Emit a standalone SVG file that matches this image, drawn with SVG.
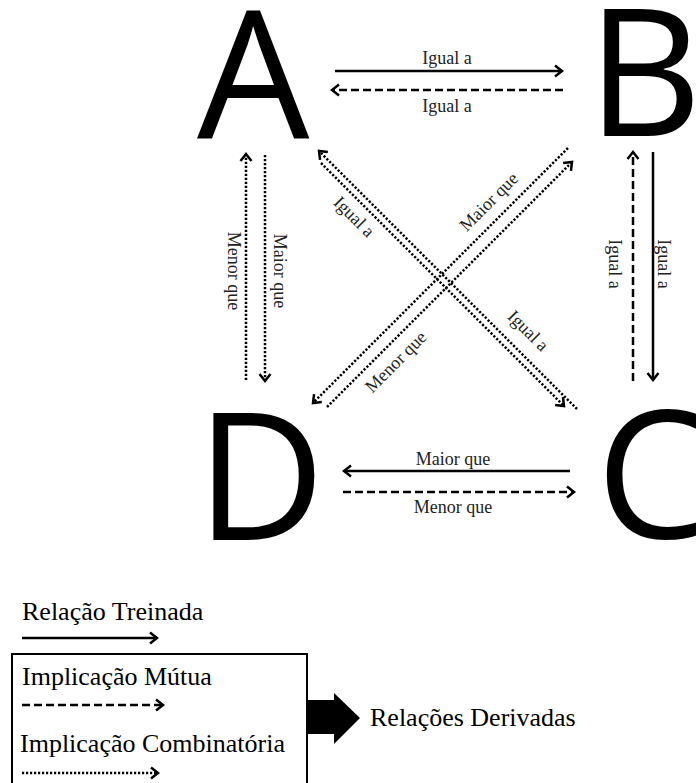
<svg xmlns="http://www.w3.org/2000/svg" width="696" height="783" viewBox="0 0 696 783">
<style>
.big{font-family:"Open Sans","DejaVu Sans",sans-serif;font-size:178px;fill:#000}
.lbl{font-family:"Liberation Serif","Times New Roman",serif;font-size:18px;fill:#222}
.leg{font-family:"Liberation Serif","Times New Roman",serif;font-size:26px;fill:#000}
.ln{fill:none;stroke:#000;stroke-width:2.5}
.dash{stroke-dasharray:8 4}
.dot{stroke-dasharray:2.2 1.8}
.head{fill:none;stroke:#000;stroke-width:2.5;stroke-dasharray:none;stroke-linejoin:miter}
</style>
<defs>
<marker id="ah" markerUnits="userSpaceOnUse" viewBox="-12 -9 14 18" markerWidth="14" markerHeight="18" refX="0" refY="0" orient="auto" overflow="visible">
<path class="head" d="M-7,-5.5 L0,0 L-7,5.5"/>
</marker>
</defs>
<g id="node-A"><text class="big" x="197" y="138">A</text></g>
<g id="node-B"><text class="big" x="587" y="136">B</text></g>
<g id="node-D"><text class="big" x="196" y="540">D</text></g>
<g id="node-C"><text class="big" x="596" y="538">C</text></g>
<g id="connectors">
<line class="ln" x1="335" y1="71" x2="562" y2="71" marker-end="url(#ah)"/>
<line class="ln dash" x1="563" y1="90" x2="332" y2="90" marker-end="url(#ah)"/>
<line class="ln dot" x1="246" y1="380" x2="246" y2="154" marker-end="url(#ah)"/>
<line class="ln dot" x1="265" y1="155" x2="265" y2="381" marker-end="url(#ah)"/>
<line class="ln dash" x1="633" y1="381" x2="633" y2="152" marker-end="url(#ah)"/>
<line class="ln" x1="653" y1="152" x2="653" y2="380" marker-end="url(#ah)"/>
<line class="ln dot" x1="577" y1="409" x2="319" y2="151" marker-end="url(#ah)"/>
<line class="ln dot" x1="321" y1="163" x2="564" y2="406" marker-end="url(#ah)"/>
<line class="ln dot" x1="568" y1="148" x2="313" y2="403" marker-end="url(#ah)"/>
<line class="ln dot" x1="327" y1="407" x2="572" y2="162" marker-end="url(#ah)"/>
<line class="ln" x1="570" y1="471" x2="344" y2="471" marker-end="url(#ah)"/>
<line class="ln dash" x1="343" y1="492" x2="574" y2="492" marker-end="url(#ah)"/>
</g>
<g id="labels">
<text class="lbl" x="447" y="64" text-anchor="middle">Igual a</text>
<text class="lbl" x="447" y="112" text-anchor="middle">Igual a</text>
<text class="lbl" x="453" y="465" text-anchor="middle">Maior que</text>
<text class="lbl" x="453" y="513" text-anchor="middle">Menor que</text>
<text class="lbl" text-anchor="middle" transform="translate(228,271) rotate(90)">Menor que</text>
<text class="lbl" text-anchor="middle" transform="translate(274,271) rotate(90)">Maior que</text>
<text class="lbl" text-anchor="middle" transform="translate(609,264) rotate(90)">Igual a</text>
<text class="lbl" text-anchor="middle" transform="translate(658,264) rotate(90)">Igual a</text>
<text class="lbl" text-anchor="middle" transform="translate(350,221) rotate(45)">Igual a</text>
<text class="lbl" text-anchor="middle" transform="translate(493,206) rotate(-45)">Maior que</text>
<text class="lbl" text-anchor="middle" transform="translate(400,366) rotate(-45)">Menor que</text>
<text class="lbl" text-anchor="middle" transform="translate(524,335) rotate(45)">Igual a</text>
</g>
<g id="legend">
<text class="leg" x="22" y="620">Relação Treinada</text>
<line class="ln" x1="22" y1="638" x2="157" y2="638" marker-end="url(#ah)"/>
<rect x="12" y="654" width="295" height="140" fill="none" stroke="#000" stroke-width="2"/>
<text class="leg" x="22" y="685">Implicação Mútua</text>
<line class="ln dash" x1="22" y1="705" x2="163" y2="705" marker-end="url(#ah)"/>
<text class="leg" x="20" y="752">Implicação Combinatória</text>
<line class="ln dot" x1="22" y1="773" x2="158" y2="773" marker-end="url(#ah)"/>
<path d="M307,700 L334,700 L334,693 L360,718 L334,744 L334,734 L307,734 Z" fill="#000"/>
<text class="leg" x="370" y="726">Relações Derivadas</text>
</g>
</svg>
